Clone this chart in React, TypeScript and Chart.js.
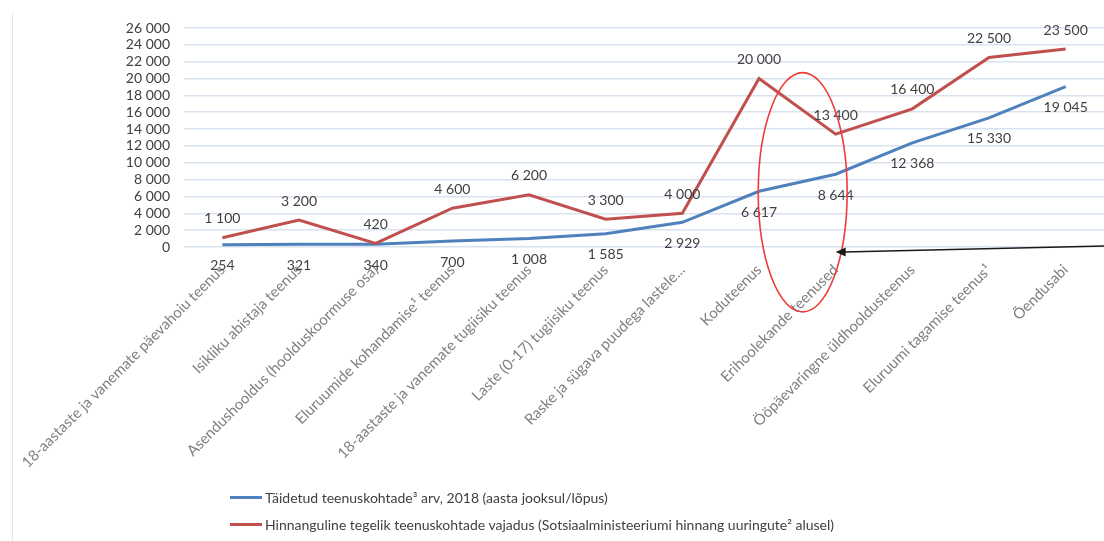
import React, { useEffect, useRef } from "react";
import { Chart, registerables } from "chart.js";

Chart.register(...registerables);

// Service categories along the horizontal axis
const categories: string[] = [
  "18-aastaste ja vanemate päevahoiu teenus",
  "Isikliku abistaja teenus",
  "Asendushooldus (hoolduskoormuse osa)",
  "Eluruumide kohandamise¹ teenus",
  "18-aastaste ja vanemate tugiisiku teenus",
  "Laste (0-17) tugiisiku teenus",
  "Raske ja sügava puudega lastele...",
  "Koduteenus",
  "Erihoolekande teenused",
  "Ööpäevaringne üldhooldusteenus",
  "Eluruumi tagamise teenus¹",
  "Õendusabi",
];

// Filled service places, 2018
const filledPlaces: number[] = [254, 321, 340, 700, 1008, 1585, 2929, 6617, 8644, 12368, 15330, 19045];

// Estimated actual need for service places
const estimatedNeed: number[] = [1100, 3200, 420, 4600, 6200, 3300, 4000, 20000, 13400, 16400, 22500, 23500];

const seriesNames: string[] = [
  "Täidetud teenuskohtade³ arv, 2018 (aasta jooksul/lõpus)",
  "Hinnanguline tegelik teenuskohtade vajadus (Sotsiaalministeeriumi hinnang uuringute² alusel)",
];

const yMin = 0;
const yMax = 26000;
const yStep = 2000;

const BLUE = "#4F81BD";
const RED = "#C0504D";
const FONT = "Lato, 'Open Sans', sans-serif";

const fmt = (v: number) => Math.round(v).toString().replace(/\B(?=(\d{3})+(?!\d))/g, " ");

// Value labels: first series below its points, second series above
const valueLabels = {
  id: "valueLabels",
  afterDatasetsDraw(chart: any) {
    const ctx = chart.ctx;
    ctx.save();
    ctx.font = `14px ${FONT}`;
    ctx.fillStyle = "#404040";
    ctx.textAlign = "center";
    ctx.textBaseline = "middle";
    chart.data.datasets.forEach((ds: any, i: number) => {
      const meta = chart.getDatasetMeta(i);
      const dy = i === 0 ? 21 : -19;
      meta.data.forEach((pt: any, j: number) => {
        ctx.fillText(fmt(ds.data[j]), pt.x, pt.y + dy);
      });
    });
    ctx.restore();
  },
};

// Highlight ellipse around the Erihoolekande point and a pointer arrow
const highlight = {
  id: "highlight",
  afterDraw(chart: any) {
    const { ctx, scales, width } = chart;
    const x = scales.x;
    const y = scales.y;
    const step = x.getPixelForValue(8) - x.getPixelForValue(7);
    const cx = x.getPixelForValue(7.57);
    const cy = y.getPixelForValue(6500);
    const rx = step * 0.58;
    const ry = y.getPixelForValue(0) - y.getPixelForValue(14200);
    ctx.save();
    ctx.strokeStyle = "#EE3B3B";
    ctx.lineWidth = 1.6;
    ctx.beginPath();
    ctx.ellipse(cx, cy, rx, ry, 0, 0, Math.PI * 2);
    ctx.stroke();

    const tipX = x.getPixelForValue(8);
    const tipY = y.getPixelForValue(0) + 5;
    const endX = width;
    const endY = y.getPixelForValue(0) - 1;
    ctx.strokeStyle = "#1a1a1a";
    ctx.fillStyle = "#1a1a1a";
    ctx.lineWidth = 1.5;
    ctx.beginPath();
    ctx.moveTo(endX, endY);
    ctx.lineTo(tipX + 8, tipY);
    ctx.stroke();
    ctx.beginPath();
    ctx.moveTo(tipX, tipY);
    ctx.lineTo(tipX + 10, tipY - 4.5);
    ctx.lineTo(tipX + 10, tipY + 4.5);
    ctx.closePath();
    ctx.fill();
    ctx.restore();
  },
};

export default function App() {
  const canvasRef = useRef<HTMLCanvasElement>(null);

  useEffect(() => {
    document.body.style.margin = "0";
    const chart = new Chart(canvasRef.current as HTMLCanvasElement, {
      type: "line",
      data: {
        labels: categories,
        datasets: [
          {
            label: seriesNames[0],
            data: filledPlaces,
            borderColor: BLUE,
            backgroundColor: BLUE,
            borderWidth: 3,
            pointRadius: 0,
            order: 1,
          },
          {
            label: seriesNames[1],
            data: estimatedNeed,
            borderColor: RED,
            backgroundColor: RED,
            borderWidth: 3,
            pointRadius: 0,
            order: 0,
          },
        ],
      },
      options: {
        responsive: false,
        animation: false,
        layout: { padding: { top: 28, right: 0, bottom: 0, left: 0 } },
        plugins: {
          legend: { display: false },
          tooltip: { enabled: false },
        },
        scales: {
          x: {
            offset: true,
            grid: { display: false, drawTicks: false },
            border: { display: false },
            ticks: {
              autoSkip: false,
              minRotation: 45,
              maxRotation: 45,
              color: "#808080",
              font: { family: FONT, size: 15 },
              padding: 14,
            },
            afterFit: (s: any) => {
              s.height = 294;
              s.paddingLeft = 0;
              s.paddingRight = 0;
            },
          },
          y: {
            min: yMin,
            max: yMax,
            ticks: {
              stepSize: yStep,
              autoSkip: false,
              color: "#404040",
              font: { family: FONT, size: 14 },
              padding: 14,
              callback: (v: any) => fmt(Number(v)),
            },
            grid: { color: "#D9E2EF", lineWidth: 1.5, drawTicks: false },
            border: { display: false },
            afterFit: (s: any) => {
              s.width = 184;
            },
          },
        },
      },
      plugins: [valueLabels, highlight],
    });
    return () => chart.destroy();
  }, []);

  const legendRow = (color: string, text: string, top: number) => (
    <div
      style={{
        position: "absolute",
        left: 230,
        top: top - 10,
        height: 20,
        display: "flex",
        alignItems: "center",
        fontFamily: FONT,
        fontSize: 14,
        color: "#404040",
        whiteSpace: "nowrap",
      }}
    >
      <span style={{ display: "inline-block", width: 32, height: 3, background: color, marginRight: 3 }} />
      <span>{text}</span>
    </div>
  );

  return (
    <div style={{ position: "relative", width: 1104, height: 541, background: "#fff", overflow: "hidden" }}>
      <div style={{ position: "absolute", left: 12, top: 13, width: 1, height: 528, background: "#DCE6F2" }} />
      <canvas ref={canvasRef} width={1104} height={541} style={{ position: "absolute", left: 0, top: 0 }} />
      {legendRow(BLUE, seriesNames[0], 497)}
      {legendRow(RED, seriesNames[1], 524)}
    </div>
  );
}
